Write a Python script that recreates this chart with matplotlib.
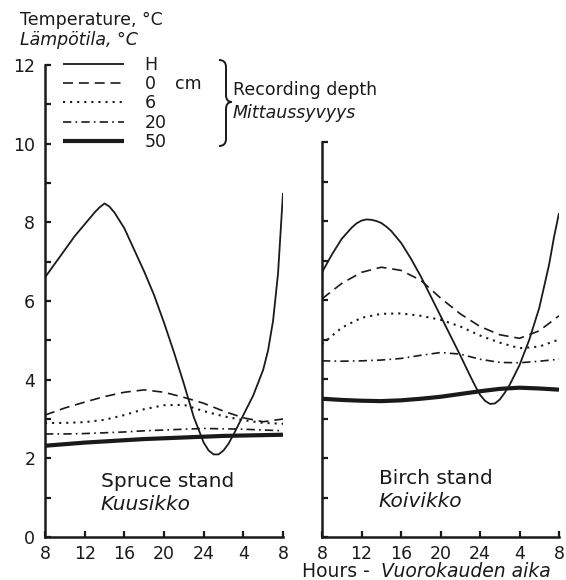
import matplotlib
matplotlib.use("Agg")
import matplotlib.pyplot as plt
from matplotlib.path import Path
from matplotlib.patches import PathPatch

plt.rcParams['font.family'] = ['DejaVu Sans']

# ---------------- data ----------------
tick_hours = [8, 12, 16, 20, 24, 28, 32]
tick_labels = ["8", "12", "16", "20", "24", "4", "8"]
depth_labels = ["H", "0", "6", "20", "50"]

# Spruce stand (Kuusikko)
spruce_H_hours = [8, 9, 10, 11, 12, 13, 13.5, 14, 14.5, 15, 16, 17, 18, 19, 20, 21, 22,
                  23, 24, 24.5, 25, 25.5, 26, 26.5, 27, 28, 29, 30, 30.5, 31, 31.5, 32]
spruce_H = [6.6, 6.95, 7.3, 7.65, 7.95, 8.25, 8.38, 8.48, 8.4, 8.25, 7.85, 7.3, 6.75,
            6.15, 5.45, 4.7, 3.9, 3.05, 2.4, 2.2, 2.1, 2.1, 2.2, 2.37, 2.6, 3.1, 3.6,
            4.25, 4.75, 5.5, 6.7, 8.75]
spruce_hours = [8, 10, 12, 14, 16, 18, 20, 22, 24, 26, 28, 30, 32]
spruce_0 = [3.1, 3.28, 3.43, 3.57, 3.68, 3.74, 3.68, 3.55, 3.4, 3.2, 3.03, 2.93, 3.0]
spruce_6 = [2.9, 2.9, 2.92, 2.98, 3.1, 3.25, 3.35, 3.36, 3.2, 3.07, 2.97, 2.9, 2.88]
spruce_20 = [2.62, 2.62, 2.63, 2.65, 2.67, 2.7, 2.72, 2.74, 2.76, 2.75, 2.74, 2.72, 2.7]
spruce_50 = [2.32, 2.36, 2.4, 2.43, 2.46, 2.49, 2.51, 2.53, 2.55, 2.57, 2.58, 2.59, 2.6]

# Birch stand (Koivikko)
birch_H_hours = [8, 9, 10, 11, 11.5, 12, 12.5, 13, 13.5, 14, 14.5, 15, 16, 17, 18, 19,
                 20, 21, 22, 23, 23.5, 24, 24.5, 25, 25.5, 26, 26.5, 27, 28, 29, 30, 31,
                 31.5, 32]
birch_H = [6.7, 7.15, 7.55, 7.83, 7.94, 8.01, 8.04, 8.03, 8.0, 7.95, 7.86, 7.75, 7.45,
           7.05, 6.6, 6.1, 5.6, 5.1, 4.6, 4.08, 3.83, 3.6, 3.45, 3.37, 3.38, 3.48, 3.65,
           3.85, 4.35, 5.0, 5.8, 6.9, 7.6, 8.2]
birch_hours = [8, 10, 12, 14, 16, 18, 20, 22, 24, 26, 28, 30, 32]
birch_0 = [6.03, 6.42, 6.7, 6.83, 6.75, 6.5, 6.05, 5.65, 5.33, 5.12, 5.03, 5.22, 5.6]
birch_6 = [4.88, 5.3, 5.55, 5.65, 5.66, 5.6, 5.5, 5.33, 5.1, 4.92, 4.78, 4.82, 5.0]
birch_20 = [4.46, 4.45, 4.46, 4.48, 4.52, 4.6, 4.67, 4.63, 4.5, 4.42, 4.41, 4.45, 4.5]
birch_50 = [3.5, 3.47, 3.45, 3.44, 3.46, 3.5, 3.55, 3.62, 3.69, 3.75, 3.78, 3.76, 3.73]

# ---------------- styles ----------------
ink = "#1a1a1a"
styles = [
    dict(lw=1.3, ls="-"),
    dict(lw=1.2, ls=(0, (6, 3.5))),
    dict(lw=1.5, ls=(0, (1, 2.4))),
    dict(lw=1.2, ls=(0, (5, 2.5, 1, 2.5))),
    dict(lw=3.0, ls="-"),
]

W, H = 566, 580
fig = plt.figure(figsize=(W / 100, H / 100), dpi=100)
fig.patch.set_facecolor("white")


def fx(px):
    return px / W


def fy(py):
    return 1 - py / H


axL = fig.add_axes([fx(45), fy(537), (283 - 45) / W, (537 - 65) / H])
axR = fig.add_axes([fx(322), fy(537), (559 - 322) / W, (537 - 142) / H])

lines = []
for ax, hh, H_series, hrs, series, ymax in [
    (axL, spruce_H_hours, spruce_H, spruce_hours, [spruce_0, spruce_6, spruce_20, spruce_50], 12),
    (axR, birch_H_hours, birch_H, birch_hours, [birch_0, birch_6, birch_20, birch_50], 10),
]:
    l, = ax.plot(hh, H_series, color=ink, solid_capstyle="butt", solid_joinstyle="round",
                 **styles[0])
    cur = [l]
    for s, st in zip(series, styles[1:]):
        l2, = ax.plot(hrs, s, color=ink, solid_capstyle="butt", **st)
        cur.append(l2)
    if not lines:
        lines = cur
    ax.set_xlim(8, 32)
    ax.set_ylim(0, ymax)
    for sp in ["top", "right"]:
        ax.spines[sp].set_visible(False)
    for sp in ["left", "bottom"]:
        ax.spines[sp].set_linewidth(1.8)
        ax.spines[sp].set_color(ink)
    ax.set_xticks(tick_hours)
    ax.set_xticklabels(tick_labels)
    ax.set_yticks(range(0, ymax + 1))
    ax.tick_params(direction="in", length=4, width=1.6, color=ink,
                   labelsize=12.5, labelcolor=ink)
    ax.tick_params(axis="x", pad=5.5)
    ax.tick_params(axis="y", pad=7)
    ax.set_facecolor("none")

axL.set_yticklabels([str(v) if v % 2 == 0 else "" for v in range(0, 13)])
axR.set_yticklabels([])

# legend
leg = fig.legend(lines, depth_labels, loc="upper left",
                 bbox_to_anchor=(fx(63), fy(56)), bbox_transform=fig.transFigure,
                 frameon=False, fontsize=12.5, handlelength=3.5, handletextpad=1.2,
                 labelspacing=0.07, borderpad=0, borderaxespad=0)
for t in leg.get_texts():
    t.set_color(ink)

fig.text(fx(175), fy(84), "cm", fontsize=12.5, color=ink, va="center", ha="left")
fig.text(fx(233), fy(90), "Recording depth", fontsize=12.5, color=ink, va="center", ha="left")
fig.text(fx(233), fy(113), "Mittaussyvyys", fontsize=12.5, color=ink, va="center", ha="left",
         style="italic")

# brace
bp = [(219, 60), (226, 60), (226, 67), (226, 95), (226, 102), (232, 102),
      (226, 102), (226, 109), (226, 139), (226, 146), (219, 146)]
codes = [Path.MOVETO, Path.CURVE3, Path.CURVE3, Path.LINETO, Path.CURVE3, Path.CURVE3,
         Path.CURVE3, Path.CURVE3, Path.LINETO, Path.CURVE3, Path.CURVE3]
brace = Path([(fx(x), fy(y)) for x, y in bp], codes)
fig.add_artist(PathPatch(brace, transform=fig.transFigure, fill=False, lw=1.4, color=ink))

# titles
fig.text(fx(20), fy(20), "Temperature, °C", fontsize=12.5, color=ink, va="center", ha="left")
fig.text(fx(20), fy(40), "Lämpötila, °C", fontsize=12.5, color=ink, va="center", ha="left",
         style="italic")

axL.text(0.235, 0.117, "Spruce stand", transform=axL.transAxes, fontsize=14.5, color=ink,
         va="center", ha="left")
axL.text(0.235, 0.068, "Kuusikko", transform=axL.transAxes, fontsize=14.5, color=ink,
         va="center", ha="left", style="italic")
axR.text(0.24, 0.149, "Birch stand", transform=axR.transAxes, fontsize=14.5, color=ink,
         va="center", ha="left")
axR.text(0.24, 0.089, "Koivikko", transform=axR.transAxes, fontsize=14.5, color=ink,
         va="center", ha="left", style="italic")

fig.text(fx(302), fy(577), "Hours -", fontsize=13.5, color=ink, va="baseline", ha="left")
fig.text(fx(381), fy(577), "Vuorokauden aika", fontsize=13.5, color=ink, va="baseline",
         ha="left", style="italic")

fig.savefig("out.png", dpi=100, facecolor="white")
